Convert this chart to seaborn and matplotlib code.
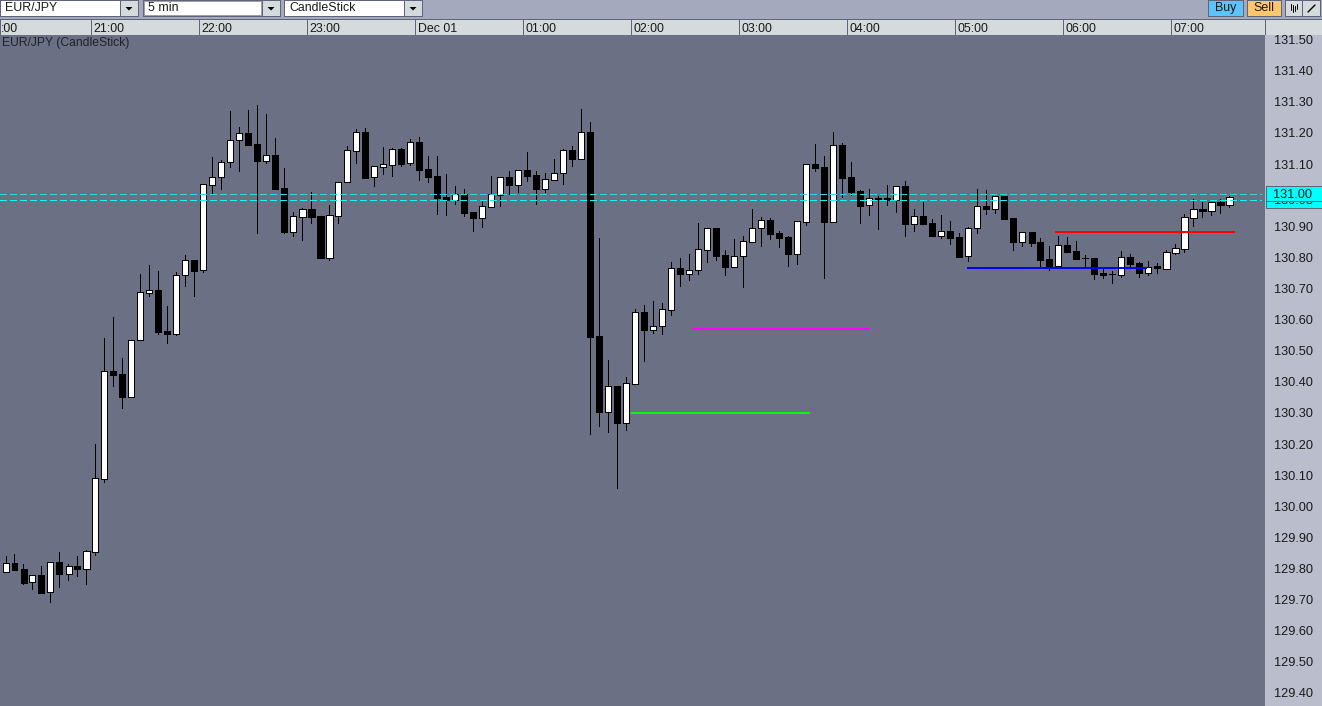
import numpy as np
import pandas as pd
import seaborn as sns
import matplotlib.pyplot as plt
from matplotlib.patches import Rectangle, Polygon
from matplotlib.transforms import ScaledTranslation

sns.set_style("white")
plt.rcParams['font.family'] = ['Liberation Sans', 'DejaVu Sans']

# colours
chart_bg = '#6b7084'
toolbar_bg = '#a4a9bd'
strip_bg = '#d5dadc'
scale_bg = '#b9bdcc'
border = '#5f6478'
ink = '#1a1a1a'

# 5 min EUR/JPY candles
opens = [129.785, 129.812, 129.792, 129.751, 129.774, 129.718, 129.816, 129.778, 129.802, 129.794,
         129.849, 130.084, 130.430, 130.420, 130.347, 130.528, 130.682, 130.691, 130.559, 130.550,
         130.737, 130.787, 130.753, 131.029, 131.052, 131.101, 131.171, 131.195, 131.160, 131.106,
         131.125, 131.018, 130.878, 130.926, 130.951, 130.928, 130.794, 130.929, 131.036, 131.138,
         131.199, 131.052, 131.087, 131.093, 131.143, 131.097, 131.166, 131.080, 131.057, 130.990,
         130.981, 130.999, 130.941, 130.923, 130.958, 130.997, 131.054, 131.029, 131.076, 131.060,
         131.016, 131.045, 131.065, 131.141, 131.112, 131.199, 130.543, 130.298, 130.382, 130.264,
         130.389, 130.620, 130.563, 130.573, 130.627, 130.761, 130.743, 130.753, 130.820, 130.890,
         130.803, 130.765, 130.798, 130.846, 130.888, 130.916, 130.874, 130.861, 130.807, 130.910,
         131.096, 131.086, 130.910, 131.157, 131.054, 131.009, 130.962, 130.986, 130.986, 130.978,
         131.025, 130.904, 130.928, 130.906, 130.865, 130.880, 130.861, 130.798, 130.888, 130.961,
         130.952, 130.993, 130.922, 130.846, 130.877, 130.845, 130.790, 130.769, 130.835, 130.816,
         130.793, 130.793, 130.745, 130.742, 130.739, 130.797, 130.777, 130.745, 130.766, 130.759,
         130.810, 130.823, 130.923, 130.950, 130.944, 130.973, 130.965]
highs = [129.835, 129.842, 129.809, 129.773, 129.803, 129.815, 129.848, 129.809, 129.835, 129.855,
         130.195, 130.536, 130.603, 130.472, 130.529, 130.742, 130.771, 130.752, 130.639, 130.747,
         130.803, 130.787, 131.031, 131.118, 131.108, 131.266, 131.215, 131.269, 131.285, 131.256,
         131.179, 131.082, 130.941, 130.954, 131.006, 130.928, 130.964, 131.037, 131.153, 131.208,
         131.211, 131.088, 131.150, 131.147, 131.147, 131.176, 131.182, 131.121, 131.121, 131.064,
         131.025, 131.015, 130.941, 130.977, 131.057, 131.053, 131.073, 131.075, 131.134, 131.073,
         131.067, 131.112, 131.144, 131.154, 131.273, 131.231, 130.858, 130.465, 130.382, 130.411,
         130.629, 130.642, 130.655, 130.649, 130.781, 130.793, 130.806, 130.906, 130.889, 130.890,
         130.819, 130.854, 130.864, 130.951, 130.925, 130.922, 130.880, 130.864, 130.911, 131.095,
         131.160, 131.121, 131.199, 131.163, 131.102, 131.012, 131.015, 130.993, 131.028, 131.024,
         131.041, 130.951, 130.973, 130.919, 130.932, 130.912, 130.874, 130.893, 131.015, 131.012,
         130.992, 130.993, 130.922, 130.876, 130.877, 130.858, 130.832, 130.864, 130.861, 130.848,
         130.803, 130.793, 130.758, 130.752, 130.816, 130.806, 130.781, 130.784, 130.777, 130.819,
         130.838, 130.935, 130.983, 130.973, 130.973, 130.983, 130.993]
lows = [129.785, 129.791, 129.745, 129.729, 129.717, 129.687, 129.736, 129.758, 129.771, 129.745,
        129.838, 130.073, 130.382, 130.311, 130.346, 130.528, 130.672, 130.549, 130.520, 130.546,
        130.703, 130.671, 130.748, 131.002, 131.015, 131.086, 131.073, 131.157, 130.874, 131.100,
        131.015, 130.874, 130.864, 130.851, 130.906, 130.793, 130.787, 130.906, 131.036, 131.099,
        131.051, 131.025, 131.064, 131.057, 131.089, 131.092, 131.044, 131.038, 130.935, 130.932,
        130.967, 130.928, 130.880, 130.893, 130.958, 130.961, 130.999, 131.006, 131.041, 130.967,
        131.006, 131.045, 131.031, 131.089, 131.112, 130.228, 130.253, 130.234, 130.054, 130.240,
        130.389, 130.462, 130.552, 130.549, 130.610, 130.703, 130.723, 130.742, 130.781, 130.787,
        130.739, 130.765, 130.700, 130.846, 130.832, 130.855, 130.829, 130.768, 130.774, 130.899,
        131.073, 130.729, 130.910, 130.990, 130.996, 130.906, 130.932, 130.887, 130.964, 130.941,
        130.864, 130.880, 130.903, 130.864, 130.858, 130.838, 130.797, 130.784, 130.874, 130.935,
        130.938, 130.919, 130.819, 130.832, 130.832, 130.764, 130.755, 130.764, 130.813, 130.790,
        130.764, 130.726, 130.729, 130.713, 130.732, 130.764, 130.732, 130.739, 130.745, 130.759,
        130.807, 130.814, 130.896, 130.926, 130.932, 130.938, 130.957]
closes = [129.812, 129.791, 129.749, 129.773, 129.717, 129.815, 129.778, 129.802, 129.794, 129.850,
          130.085, 130.429, 130.417, 130.347, 130.529, 130.683, 130.690, 130.556, 130.549, 130.738,
          130.786, 130.752, 131.030, 131.053, 131.101, 131.172, 131.194, 131.157, 131.105, 131.124,
          131.015, 130.877, 130.928, 130.950, 130.926, 130.793, 130.931, 131.037, 131.140, 131.198,
          131.051, 131.088, 131.095, 131.143, 131.096, 131.165, 131.076, 131.054, 130.986, 130.980,
          130.998, 130.938, 130.922, 130.960, 130.998, 131.053, 131.028, 131.075, 131.057, 131.015,
          131.046, 131.066, 131.140, 131.112, 131.198, 130.539, 130.298, 130.381, 130.263, 130.391,
          130.619, 130.562, 130.574, 130.628, 130.760, 130.742, 130.754, 130.821, 130.889, 130.800,
          130.764, 130.799, 130.847, 130.889, 130.915, 130.871, 130.858, 130.806, 130.911, 131.095,
          131.083, 130.909, 131.156, 131.051, 131.006, 130.961, 130.985, 130.983, 130.979, 131.024,
          130.903, 130.928, 130.903, 130.864, 130.879, 130.858, 130.797, 130.889, 130.960, 130.951,
          130.992, 130.919, 130.845, 130.876, 130.842, 130.787, 130.768, 130.834, 130.813, 130.790,
          130.792, 130.742, 130.739, 130.741, 130.796, 130.774, 130.745, 130.764, 130.761, 130.812,
          130.825, 130.924, 130.950, 130.944, 130.973, 130.965, 130.989]

price_ticks = [131.50, 131.40, 131.30, 131.20, 131.10, 130.90, 130.80, 130.70, 130.60, 130.50,
               130.40, 130.30, 130.20, 130.10, 130.00, 129.90, 129.80, 129.70, 129.60, 129.50, 129.40]
hour_labels = [':00', '21:00', '22:00', '23:00', 'Dec 01', '01:00', '02:00', '03:00', '04:00',
               '05:00', '06:00', '07:00']

# drawn levels: price, first candle, last candle, colour
level_prices = [130.295, 130.565, 130.761, 130.878]
level_starts = [69.5, 76.3, 106.8, 116.6]
level_ends = [89.4, 96.1, 126.8, 136.6]
level_colors = ['#00ff00', '#ff00ff', '#0000ff', '#ff0000']

ask_price = 131.00
bid_price = 130.979

df = pd.DataFrame({'idx': np.arange(len(opens)), 'open': opens, 'high': highs, 'low': lows, 'close': closes})
df['lower'] = df[['open', 'close']].min(axis=1)
df['body'] = (df['close'] - df['open']).abs()
up = df[df['close'] >= df['open']]
down = df[df['close'] < df['open']]

W, H = 1322, 706
fig = plt.figure(figsize=(W / 100, H / 100), dpi=100, facecolor=toolbar_bg)

# background chrome in pixel coordinates
ui = fig.add_axes([0, 0, 1, 1], zorder=0)
ui.set_xlim(0, W)
ui.set_ylim(H, 0)
ui.axis('off')


def box(x0, y0, x1, y1, face, edge=border, lw=0.72):
    ui.add_patch(Rectangle((x0, y0), x1 - x0, y1 - y0, facecolor=face, edgecolor=edge, lw=lw, antialiased=False))


def combo(x0, x1, label, focus=False):
    box(x0, 0, x1, 16, 'white')
    box(x1, 0, x1 + 18, 16, strip_bg)
    ui.add_patch(Polygon([(x1 + 5.5, 7), (x1 + 12.5, 7), (x1 + 9, 10.5)], facecolor='black', edgecolor='none'))
    ui.text(x0 + 5, 8, label, fontsize=8.9, color=ink, va='center', ha='left')
    if focus:
        ui.add_patch(Rectangle((x0 + 1, 1), x1 - x0 - 2, 14, fill=False, edgecolor='#444444', lw=0.72, ls=(0, (1, 1))))


combo(0, 120, 'EUR/JPY')
combo(143, 262, '5 min', focus=True)
combo(284, 404, 'CandleStick')
box(1208, 0, 1243, 16, '#5cc3fb')
ui.text(1225.5, 8, 'Buy', fontsize=8.9, color=ink, ha='center', va='center')
box(1247, 0, 1281, 16, '#fcc76a')
ui.text(1264, 8, 'Sell', fontsize=8.9, color=ink, ha='center', va='center')
box(1285, 0, 1302, 16, strip_bg)
box(1302, 0, 1320, 16, strip_bg)
for xp, top, bot in [(1290.5, 4, 10), (1292.5, 5, 12), (1294.5, 6, 11), (1296.5, 4, 9)]:
    ui.plot([xp, xp], [top, bot], color='black', lw=0.72)
ui.plot([1308, 1315], [12, 5], color='black', lw=1)

# time strip and price scale
box(0, 19, 1265, 35, strip_bg)
box(1265, 19, 1322, 35, strip_bg)
ui.add_patch(Rectangle((1265, 35), 57, H - 35, facecolor=scale_bg, edgecolor='none'))

# main chart, one candle every 9 pixels
ax = fig.add_axes([0, 0, 1265 / W, (H - 35) / H], zorder=1, facecolor=chart_bg)
ax.set_xlim(-5.5 / 9, (1265 - 5.5) / 9)
ax.set_ylim(129.353, 131.510)

ax.vlines(df['idx'], df['low'], df['high'], color='black', lw=0.72, antialiased=False, zorder=1)
for part, face in [(up, 'white'), (down, 'black')]:
    sns.barplot(data=part, x='idx', y='body', bottom=part['lower'].values, native_scale=True, orient='x',
                width=6 / 9, color=face, edgecolor='black', linewidth=0.72, saturation=1, errorbar=None,
                antialiased=False, zorder=2, ax=ax)

for price, start, end, col in zip(level_prices, level_starts, level_ends, level_colors):
    ax.hlines(price, start, end, color=col, lw=1.44, antialiased=False, zorder=3)
for price, col in [(ask_price, '#2ad8e2'), (bid_price, '#00ffff')]:
    ax.plot([0, 1261 / 1265], [price, price], transform=ax.get_yaxis_transform(), color=col, lw=0.72,
            ls=(0, (6, 3)), antialiased=False, zorder=4)

ax.set_xlim(-5.5 / 9, (1265 - 5.5) / 9)
ax.set_ylim(129.353, 131.510)
ax.set_xlabel('')
ax.set_ylabel('')
ax.set_xticks([])
ax.yaxis.tick_right()
ax.set_yticks(price_ticks)
ax.set_yticklabels([f'{p:.2f}' for p in price_ticks], fontsize=9.2, color=ink, va='center')
ax.tick_params(axis='y', length=0, pad=6.5)
# the scale labels sit a little under their price, as in the terminal
nudge = ScaledTranslation(0, -3 / 100, fig.dpi_scale_trans)
for lab in ax.get_yticklabels():
    lab.set_transform(lab.get_transform() + nudge)
sns.despine(ax=ax, left=True, bottom=True, top=True, right=True)
ax.text(2, 43, 'EUR/JPY (CandleStick)', fontsize=8.7, color='#20222a', va='center', ha='left',
        transform=ui.transData)

# hour separators and labels
hour_pos = 90.5 + 108 * np.arange(len(hour_labels) - 1)
for xp, label in zip(hour_pos, hour_labels[1:]):
    ui.plot([xp, xp], [19, 35], color=border, lw=0.72, antialiased=False)
    ui.text(xp + 3, 28.5, label, fontsize=8.9, color=ink, ha='left', va='center')
ui.text(1, 28.5, hour_labels[0], fontsize=8.9, color=ink, ha='left', va='center')

# price tags, the ask tag lies over the bid tag
ty = ui.transData
for k, (y0, y1, label, yt) in enumerate([(193, 208, f'{bid_price:.2f}', 201.5), (186, 201, f'{ask_price:.2f}', 194.5)]):
    fig.add_artist(Rectangle((1265.5, y0), 57, y1 - y0, transform=ty, facecolor='#00ffff', edgecolor=border,
                             lw=0.72, antialiased=False, zorder=5 + 2 * k))
    fig.add_artist(plt.Text(1293, yt, label, transform=ty, fontsize=9.2, color=ink, ha='center', va='center',
                            zorder=6 + 2 * k))

fig.savefig('out.png', dpi=100, facecolor=fig.get_facecolor())
